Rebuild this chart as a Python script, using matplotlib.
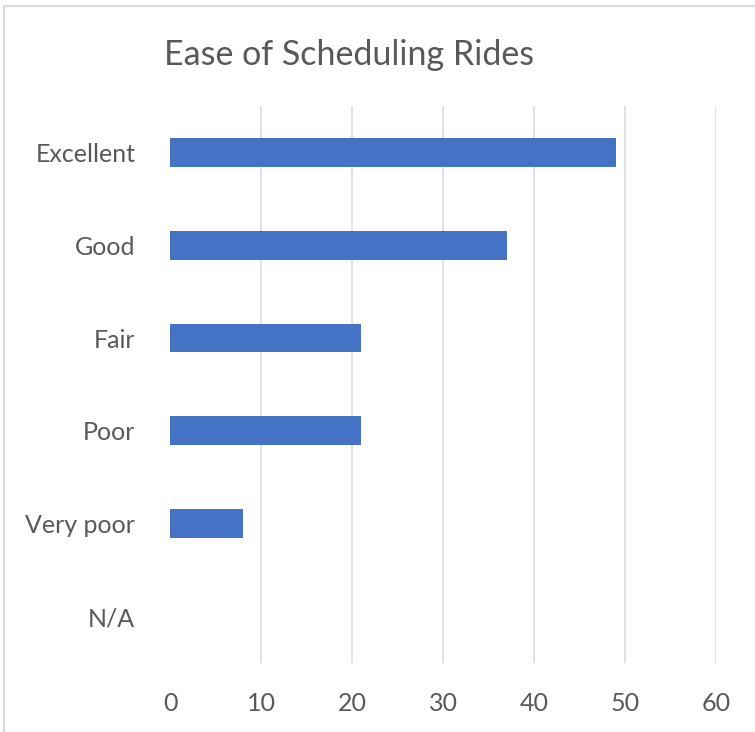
import matplotlib.pyplot as plt
from matplotlib.patches import Rectangle

categories = ["Excellent", "Good", "Fair", "Poor", "Very poor", "N/A"]
counts = [49, 37, 21, 21, 8, 0]
x_ticks = [0, 10, 20, 30, 40, 50, 60]

plt.rcParams["font.family"] = ["Lato", "DejaVu Sans"]
text_gray = "#595959"
grid_gray = "#D9D9D9"

fig = plt.figure(figsize=(7.55, 7.32), dpi=100)
ax = fig.add_axes([0.2252, 0.0943, 0.7232, 0.761])

ypos = list(range(len(categories)))
ax.barh(ypos, counts, height=0.31, color="#4472C4", zorder=3)

ax.set_xlim(0, 60)
ax.set_ylim(len(categories) - 0.5, -0.5)
ax.set_xticks(x_ticks)
ax.set_xticklabels([str(t) for t in x_ticks])
ax.set_yticks(ypos)
ax.set_yticklabels(categories)

# vertical gridlines only, skipping the zero line
for t in x_ticks[1:]:
    ax.axvline(t, color=grid_gray, lw=1.1, zorder=1)

for s in ax.spines.values():
    s.set_visible(False)
ax.tick_params(axis="both", length=0, labelsize=18, colors=text_gray)
ax.tick_params(axis="x", pad=21)
ax.tick_params(axis="y", pad=25)

fig.text(349 / 755, 1 - 65 / 732, "Ease of Scheduling Rides", ha="center", va="baseline",
         fontsize=24.5, color=text_gray)

# chart area outline
fig.patches.append(Rectangle((4 / 755, -0.1), 1.2, 1.1 - 6 / 732, transform=fig.transFigure,
                             fill=False, edgecolor=grid_gray, lw=1.5))

fig.savefig("out.png", dpi=100, facecolor="white")
